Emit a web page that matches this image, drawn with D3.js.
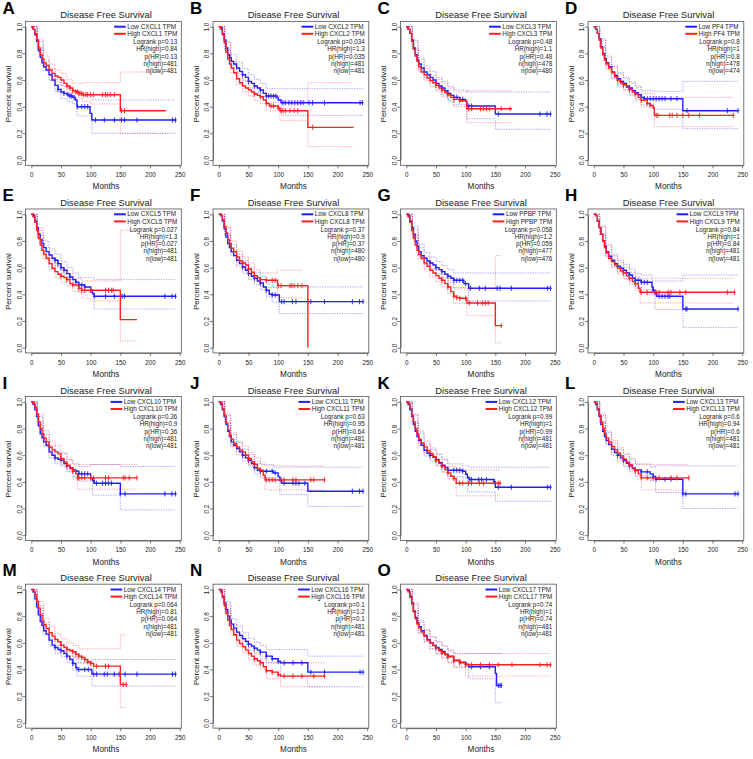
<!DOCTYPE html>
<html lang="en">
<head>
<meta charset="UTF-8">
<title>Disease Free Survival - CXC chemokines</title>
<script src="https://d3js.org/d3.v7.min.js"></script>
<style>
  body { margin: 0; background: #fff; }
  svg { display: block; font-family: "Liberation Sans", Arial, sans-serif; }
</style>
</head>
<body>
<svg id="chart" width="753" height="759"></svg>
<script>
// Panel labels and genes
const letters = ["A","B","C","D","E","F","G","H","I","J","K","L","M","N","O"];
const genes = ["CXCL1","CXCL2","CXCL3","PF4","CXCL5","CXCL8","PPBP","CXCL9","CXCL10","CXCL11","CXCL12","CXCL13","CXCL14","CXCL16","CXCL17"];

// Stats text
const logrankP = ["0.13","0.034","0.48","0.8","0.027","0.37","0.058","0.84","0.36","0.63","0.99","0.6","0.064","0.1","0.74"];
const hrHigh   = ["0.84","1.3","1.1","1","1.3","0.9","1.2","1","0.9","0.95","1","0.94","0.81","1.2","1"];
const pHR      = ["0.13","0.035","0.48","0.8","0.027","0.37","0.059","0.84","0.36","0.64","0.99","0.6","0.064","0.1","0.74"];
const nHigh    = [481,481,478,478,481,480,477,481,481,481,481,481,481,481,481];
const nLow     = [481,481,480,474,481,480,476,481,481,481,481,481,481,481,481];

// Kaplan-Meier knots [months, survival], low expression group (blue)
const lowCurves = [
  [[0,1],[3,0.98],[6,0.94],[9,0.89],[12,0.82],[15,0.77],[18,0.73],[21,0.70],[25,0.675],[30,0.64],[35,0.60],[40,0.56],[45,0.53],[50,0.51],[55,0.50],[60,0.49],[65,0.48],[70,0.47],[74,0.45],[77,0.40],[99,0.35],[102,0.30],[243,0.30]],
  [[0,1],[3,0.99],[6,0.95],[9,0.90],[12,0.84],[15,0.79],[18,0.77],[21,0.74],[25,0.72],[30,0.69],[35,0.665],[40,0.64],[45,0.62],[50,0.59],[55,0.575],[60,0.555],[65,0.54],[70,0.525],[75,0.50],[80,0.48],[98,0.47],[100,0.45],[105,0.43],[243,0.43]],
  [[0,1],[3,0.98],[6,0.95],[9,0.90],[12,0.84],[15,0.79],[18,0.75],[21,0.72],[25,0.69],[30,0.66],[35,0.64],[40,0.62],[45,0.60],[50,0.575],[55,0.555],[60,0.54],[65,0.52],[70,0.50],[75,0.485],[80,0.47],[90,0.455],[100,0.44],[102,0.405],[150,0.345],[243,0.345]],
  [[0,1],[3,0.98],[6,0.95],[9,0.91],[12,0.85],[15,0.80],[18,0.76],[21,0.73],[25,0.70],[30,0.66],[35,0.635],[40,0.61],[45,0.59],[50,0.575],[55,0.555],[60,0.54],[65,0.52],[70,0.505],[75,0.49],[80,0.47],[85,0.46],[150,0.37],[243,0.37]],
  [[0,1],[3,0.99],[6,0.95],[9,0.90],[12,0.85],[15,0.81],[18,0.78],[21,0.75],[25,0.72],[30,0.695],[35,0.67],[40,0.655],[45,0.63],[50,0.60],[55,0.58],[60,0.555],[65,0.53],[70,0.51],[75,0.49],[80,0.47],[90,0.455],[100,0.43],[103,0.405],[106,0.385],[243,0.385]],
  [[0,1],[3,0.99],[6,0.95],[9,0.89],[12,0.83],[15,0.78],[18,0.75],[21,0.72],[25,0.69],[30,0.655],[35,0.63],[40,0.605],[45,0.58],[50,0.555],[55,0.535],[60,0.52],[65,0.50],[70,0.485],[75,0.455],[80,0.43],[85,0.40],[90,0.395],[102,0.345],[243,0.345]],
  [[0,1],[3,0.99],[6,0.95],[9,0.90],[12,0.85],[15,0.80],[18,0.76],[21,0.72],[25,0.69],[30,0.67],[35,0.65],[40,0.635],[45,0.62],[50,0.60],[55,0.585],[60,0.57],[65,0.55],[70,0.535],[75,0.52],[80,0.505],[97,0.48],[105,0.445],[243,0.445]],
  [[0,1],[3,0.99],[6,0.95],[9,0.90],[12,0.85],[15,0.80],[18,0.76],[21,0.72],[25,0.685],[30,0.655],[35,0.63],[40,0.61],[45,0.595],[50,0.58],[55,0.56],[60,0.545],[65,0.52],[70,0.505],[80,0.49],[98,0.455],[100,0.43],[103,0.405],[106,0.385],[150,0.29],[243,0.29]],
  [[0,1],[3,0.98],[6,0.94],[9,0.89],[12,0.82],[15,0.76],[18,0.73],[21,0.70],[25,0.675],[30,0.625],[35,0.60],[40,0.58],[45,0.57],[50,0.5625],[55,0.5375],[60,0.52],[65,0.505],[70,0.49],[75,0.48],[80,0.46],[100,0.43],[103,0.41],[106,0.39],[150,0.31],[243,0.31]],
  [[0,1],[3,0.98],[6,0.94],[9,0.89],[12,0.83],[15,0.78],[18,0.74],[21,0.70],[25,0.675],[30,0.65],[35,0.625],[40,0.60],[45,0.58],[50,0.5625],[55,0.5375],[60,0.5075],[65,0.4875],[70,0.48],[92,0.4675],[100,0.4375],[103,0.41],[106,0.39],[150,0.33],[243,0.33]],
  [[0,1],[3,0.98],[6,0.94],[9,0.89],[12,0.83],[15,0.78],[18,0.74],[21,0.71],[25,0.675],[30,0.6375],[35,0.615],[40,0.60],[45,0.585],[50,0.5675],[55,0.545],[60,0.525],[65,0.5075],[70,0.4875],[95,0.48],[100,0.4575],[103,0.4325],[106,0.4175],[148,0.40],[150,0.36],[243,0.36]],
  [[0,1],[3,0.98],[6,0.94],[9,0.89],[12,0.83],[15,0.78],[18,0.74],[21,0.71],[25,0.68],[30,0.645],[35,0.62],[40,0.60],[45,0.58],[50,0.56],[55,0.54],[60,0.52],[65,0.50],[70,0.49],[80,0.475],[95,0.46],[100,0.44],[104,0.42],[150,0.31],[243,0.31]],
  [[0,1],[3,0.98],[6,0.93],[9,0.87],[12,0.81],[15,0.76],[18,0.73],[21,0.69],[25,0.665],[30,0.62],[35,0.5825],[40,0.565],[45,0.55],[50,0.54],[55,0.52],[60,0.50],[65,0.475],[70,0.445],[75,0.415],[77,0.40],[102,0.365],[243,0.365]],
  [[0,1],[3,0.99],[6,0.95],[9,0.90],[12,0.85],[15,0.80],[18,0.77],[21,0.74],[25,0.71],[30,0.68],[35,0.655],[40,0.63],[45,0.61],[50,0.59],[55,0.575],[60,0.56],[65,0.545],[70,0.53],[80,0.50],[90,0.48],[100,0.46],[104,0.45],[150,0.38],[243,0.38]],
  [[0,1],[3,0.99],[6,0.95],[9,0.90],[12,0.84],[15,0.79],[18,0.75],[21,0.72],[25,0.69],[30,0.655],[35,0.625],[40,0.60],[45,0.58],[50,0.565],[55,0.55],[60,0.535],[65,0.515],[70,0.50],[80,0.47],[90,0.455],[100,0.44],[105,0.42],[150,0.37],[152,0.28],[160,0.28]]
];

// Kaplan-Meier knots, high expression group (red)
const highCurves = [
  [[0,1],[3,0.98],[6,0.95],[9,0.90],[12,0.84],[15,0.79],[18,0.76],[21,0.73],[25,0.71],[30,0.675],[35,0.65],[40,0.63],[45,0.62],[50,0.60],[55,0.575],[60,0.555],[65,0.54],[70,0.52],[75,0.51],[80,0.50],[86,0.49],[150,0.37],[227,0.37]],
  [[0,1],[3,0.98],[6,0.94],[9,0.88],[12,0.81],[15,0.76],[18,0.72],[21,0.69],[25,0.655],[30,0.61],[35,0.58],[40,0.555],[45,0.54],[50,0.525],[55,0.51],[60,0.495],[65,0.485],[70,0.475],[75,0.45],[80,0.425],[85,0.405],[100,0.39],[103,0.37],[150,0.245],[227,0.245]],
  [[0,1],[3,0.98],[6,0.95],[9,0.89],[12,0.83],[15,0.78],[18,0.74],[21,0.70],[25,0.66],[30,0.64],[35,0.615],[40,0.595],[45,0.58],[50,0.56],[55,0.54],[60,0.525],[65,0.505],[70,0.49],[75,0.47],[80,0.455],[90,0.445],[100,0.44],[102,0.385],[178,0.385]],
  [[0,1],[3,0.98],[6,0.95],[9,0.90],[12,0.84],[15,0.79],[18,0.75],[21,0.72],[25,0.69],[30,0.655],[35,0.625],[40,0.60],[45,0.58],[50,0.565],[55,0.545],[60,0.53],[65,0.51],[70,0.495],[75,0.47],[80,0.45],[90,0.425],[95,0.41],[100,0.39],[102,0.335],[235,0.335]],
  [[0,1],[3,0.98],[6,0.94],[9,0.88],[12,0.82],[15,0.77],[18,0.73],[21,0.70],[25,0.67],[30,0.63],[35,0.595],[40,0.57],[45,0.55],[50,0.535],[55,0.525],[60,0.51],[65,0.48],[70,0.47],[80,0.445],[85,0.43],[150,0.21],[178,0.21]],
  [[0,1],[3,0.99],[6,0.96],[9,0.91],[12,0.86],[15,0.81],[18,0.78],[21,0.745],[25,0.72],[30,0.68],[35,0.65],[40,0.635],[45,0.62],[50,0.59],[55,0.565],[60,0.54],[65,0.525],[70,0.51],[80,0.505],[99,0.465],[150,0]],
  [[0,1],[3,0.98],[6,0.94],[9,0.88],[12,0.82],[15,0.77],[18,0.73],[21,0.70],[25,0.67],[30,0.635],[35,0.61],[40,0.58],[45,0.56],[50,0.54],[55,0.52],[60,0.505],[65,0.48],[70,0.455],[75,0.42],[80,0.385],[85,0.375],[90,0.37],[102,0.335],[150,0.165],[160,0.165]],
  [[0,1],[3,0.99],[6,0.95],[9,0.90],[12,0.85],[15,0.80],[18,0.75],[21,0.71],[25,0.67],[30,0.645],[35,0.62],[40,0.595],[45,0.575],[50,0.56],[55,0.54],[60,0.52],[65,0.495],[70,0.48],[75,0.445],[78,0.415],[237,0.415]],
  [[0,1],[3,0.99],[6,0.96],[9,0.91],[12,0.85],[15,0.80],[18,0.76],[21,0.73],[25,0.70],[30,0.66],[35,0.64],[40,0.625],[45,0.61],[50,0.575],[55,0.55],[60,0.525],[65,0.50],[70,0.48],[75,0.46],[78,0.43],[178,0.43]],
  [[0,1],[3,0.99],[6,0.95],[9,0.90],[12,0.84],[15,0.79],[18,0.75],[21,0.72],[25,0.6875],[30,0.6625],[35,0.64],[40,0.625],[45,0.60],[50,0.575],[55,0.55],[60,0.5325],[65,0.50],[70,0.4875],[75,0.45],[78,0.415],[177,0.415]],
  [[0,1],[3,0.99],[6,0.95],[9,0.90],[12,0.85],[15,0.80],[18,0.76],[21,0.72],[25,0.69],[30,0.6625],[35,0.635],[40,0.6125],[45,0.59],[50,0.5625],[55,0.54],[60,0.5175],[65,0.4925],[70,0.4675],[75,0.4425],[80,0.425],[84,0.39],[158,0.39]],
  [[0,1],[3,0.99],[6,0.95],[9,0.90],[12,0.85],[15,0.80],[18,0.76],[21,0.73],[25,0.70],[30,0.665],[35,0.64],[40,0.615],[45,0.595],[50,0.57],[55,0.55],[60,0.53],[65,0.505],[70,0.485],[75,0.46],[80,0.43],[160,0.43]],
  [[0,1],[3,0.99],[6,0.96],[9,0.91],[12,0.86],[15,0.81],[18,0.77],[21,0.735],[25,0.7075],[30,0.675],[35,0.65],[40,0.625],[45,0.6075],[50,0.5825],[55,0.565],[60,0.55],[65,0.54],[70,0.5325],[75,0.515],[80,0.50],[85,0.49],[90,0.475],[95,0.4575],[100,0.445],[105,0.425],[150,0.2875],[160,0.2875]],
  [[0,1],[3,0.98],[6,0.94],[9,0.88],[12,0.82],[15,0.77],[18,0.73],[21,0.70],[25,0.66],[30,0.62],[35,0.595],[40,0.57],[45,0.545],[50,0.52],[55,0.50],[60,0.48],[65,0.465],[70,0.45],[75,0.42],[80,0.39],[90,0.38],[100,0.36],[104,0.35],[178,0.35]],
  [[0,1],[3,0.98],[6,0.94],[9,0.89],[12,0.83],[15,0.78],[18,0.74],[21,0.71],[25,0.68],[30,0.65],[35,0.62],[40,0.60],[45,0.58],[50,0.56],[55,0.54],[60,0.525],[65,0.51],[70,0.495],[80,0.465],[90,0.45],[100,0.435],[243,0.435]]
];

// 95% confidence bands (dotted)
const lowUpper = [
  [[0,1],[10,0.89],[20,0.75],[30,0.685],[40,0.605],[50,0.56],[60,0.54],[70,0.52],[77,0.49],[102,0.45],[243,0.45]],
  [[0,1],[10,0.89],[20,0.79],[30,0.735],[40,0.685],[50,0.64],[60,0.605],[70,0.575],[80,0.535],[243,0.535]],
  [[0,1],[10,0.90],[20,0.77],[30,0.705],[40,0.665],[50,0.62],[60,0.59],[70,0.55],[80,0.525],[102,0.51],[243,0.51]],
  [[0,1],[10,0.91],[20,0.78],[30,0.705],[40,0.655],[50,0.62],[60,0.585],[70,0.555],[80,0.52],[100,0.515],[150,0.59],[243,0.59]],
  [[0,1],[10,0.90],[20,0.80],[30,0.74],[40,0.70],[50,0.645],[60,0.60],[70,0.56],[80,0.525],[106,0.51],[243,0.51]],
  [[0,1],[10,0.90],[20,0.775],[30,0.70],[40,0.65],[50,0.60],[60,0.565],[70,0.535],[80,0.48],[90,0.45],[102,0.455],[243,0.455]],
  [[0,1],[10,0.91],[20,0.775],[30,0.715],[40,0.68],[50,0.645],[60,0.615],[70,0.585],[80,0.56],[243,0.56]],
  [[0,1],[10,0.91],[20,0.775],[30,0.70],[40,0.655],[50,0.625],[60,0.59],[70,0.555],[80,0.545],[98,0.50],[150,0.545],[243,0.545]],
  [[0,1],[10,0.89],[20,0.755],[30,0.67],[40,0.625],[50,0.61],[60,0.565],[70,0.54],[80,0.515],[100,0.53],[150,0.515],[243,0.515]],
  [[0,1],[10,0.90],[20,0.755],[30,0.695],[40,0.645],[50,0.605],[60,0.555],[70,0.53],[92,0.51],[243,0.51]],
  [[0,1],[10,0.90],[20,0.765],[30,0.68],[40,0.645],[50,0.61],[60,0.57],[70,0.535],[95,0.52],[106,0.51],[243,0.51]],
  [[0,1],[10,0.90],[20,0.77],[30,0.69],[40,0.645],[50,0.605],[60,0.565],[70,0.535],[95,0.51],[104,0.52],[243,0.52]],
  [[0,1],[10,0.88],[20,0.75],[30,0.665],[40,0.61],[50,0.585],[60,0.55],[70,0.495],[77,0.45],[102,0.475],[243,0.475]],
  [[0,1],[10,0.91],[20,0.78],[30,0.725],[40,0.675],[50,0.635],[60,0.605],[70,0.58],[80,0.55],[150,0.50],[243,0.50]],
  [[0,1],[10,0.90],[20,0.765],[30,0.70],[40,0.645],[50,0.61],[60,0.58],[70,0.545],[80,0.52],[160,0.52]]
];
const lowLower = [
  [[0,1],[10,0.83],[20,0.67],[30,0.595],[40,0.515],[50,0.46],[60,0.44],[70,0.42],[77,0.33],[102,0.20],[243,0.20]],
  [[0,1],[10,0.83],[20,0.71],[30,0.645],[40,0.595],[50,0.54],[60,0.505],[70,0.475],[80,0.43],[105,0.335],[243,0.335]],
  [[0,1],[10,0.84],[20,0.68],[30,0.615],[40,0.575],[50,0.53],[60,0.49],[70,0.45],[80,0.415],[102,0.31],[150,0.23],[243,0.23]],
  [[0,1],[10,0.85],[20,0.70],[30,0.615],[40,0.565],[50,0.53],[60,0.495],[70,0.455],[80,0.415],[100,0.38],[150,0.235],[243,0.235]],
  [[0,1],[10,0.84],[20,0.72],[30,0.65],[40,0.61],[50,0.555],[60,0.51],[70,0.46],[80,0.415],[106,0.29],[243,0.29]],
  [[0,1],[10,0.84],[20,0.695],[30,0.61],[40,0.56],[50,0.51],[60,0.475],[70,0.435],[80,0.38],[90,0.34],[102,0.255],[243,0.255]],
  [[0,1],[10,0.85],[20,0.685],[30,0.625],[40,0.59],[50,0.555],[60,0.525],[70,0.485],[80,0.45],[105,0.35],[243,0.35]],
  [[0,1],[10,0.85],[20,0.685],[30,0.61],[40,0.565],[50,0.535],[60,0.50],[70,0.455],[80,0.435],[98,0.40],[103,0.285],[150,0.15],[243,0.15]],
  [[0,1],[10,0.83],[20,0.665],[30,0.58],[40,0.535],[50,0.515],[60,0.475],[70,0.44],[80,0.405],[103,0.30],[150,0.19],[243,0.19]],
  [[0,1],[10,0.84],[20,0.665],[30,0.605],[40,0.555],[50,0.52],[60,0.46],[70,0.43],[92,0.41],[103,0.305],[150,0.215],[243,0.215]],
  [[0,1],[10,0.84],[20,0.675],[30,0.595],[40,0.555],[50,0.525],[60,0.48],[70,0.44],[95,0.43],[103,0.325],[150,0.255],[243,0.255]],
  [[0,1],[10,0.84],[20,0.68],[30,0.60],[40,0.555],[50,0.515],[60,0.475],[70,0.445],[95,0.41],[104,0.32],[150,0.20],[243,0.20]],
  [[0,1],[10,0.82],[20,0.66],[30,0.575],[40,0.52],[50,0.495],[60,0.455],[70,0.395],[77,0.35],[102,0.275],[243,0.275]],
  [[0,1],[10,0.85],[20,0.70],[30,0.635],[40,0.585],[50,0.545],[60,0.515],[70,0.48],[80,0.45],[104,0.35],[150,0.27],[243,0.27]],
  [[0,1],[10,0.84],[20,0.675],[30,0.61],[40,0.555],[50,0.52],[60,0.49],[70,0.455],[80,0.42],[105,0.33],[150,0.15],[160,0.15]]
];
const highUpper = [
  [[0,1],[10,0.91],[20,0.78],[30,0.72],[40,0.675],[50,0.65],[60,0.605],[70,0.575],[86,0.58],[150,0.66],[227,0.66]],
  [[0,1],[10,0.88],[20,0.745],[30,0.655],[40,0.60],[50,0.57],[60,0.545],[70,0.525],[80,0.48],[103,0.44],[150,0.58],[227,0.58]],
  [[0,1],[10,0.89],[20,0.755],[30,0.685],[40,0.64],[50,0.605],[60,0.575],[70,0.54],[80,0.51],[102,0.52],[178,0.52]],
  [[0,1],[10,0.90],[20,0.765],[30,0.70],[40,0.645],[50,0.61],[60,0.575],[70,0.545],[80,0.50],[102,0.47],[235,0.47]],
  [[0,1],[10,0.88],[20,0.75],[30,0.675],[40,0.615],[50,0.58],[60,0.555],[70,0.52],[85,0.50],[150,0.88],[178,0.88]],
  [[0,1],[10,0.91],[20,0.80],[30,0.725],[40,0.68],[50,0.635],[60,0.585],[70,0.56],[99,0.58],[140,0.58]],
  [[0,1],[10,0.89],[20,0.75],[30,0.68],[40,0.625],[50,0.585],[60,0.55],[70,0.505],[80,0.44],[150,0.69],[160,0.69]],
  [[0,1],[10,0.91],[20,0.765],[30,0.69],[40,0.64],[50,0.605],[60,0.565],[70,0.53],[78,0.52],[237,0.52]],
  [[0,1],[10,0.91],[20,0.785],[30,0.705],[40,0.67],[50,0.62],[60,0.57],[70,0.53],[178,0.53]],
  [[0,1],[10,0.91],[20,0.77],[30,0.705],[40,0.67],[50,0.62],[60,0.58],[70,0.535],[78,0.52],[177,0.52]],
  [[0,1],[10,0.91],[20,0.78],[30,0.705],[40,0.655],[50,0.605],[60,0.565],[70,0.515],[84,0.49],[158,0.49]],
  [[0,1],[10,0.91],[20,0.78],[30,0.71],[40,0.66],[50,0.615],[60,0.575],[70,0.53],[160,0.53]],
  [[0,1],[10,0.91],[20,0.785],[30,0.72],[40,0.67],[50,0.63],[60,0.60],[70,0.58],[80,0.555],[150,0.66],[160,0.66]],
  [[0,1],[10,0.89],[20,0.745],[30,0.665],[40,0.615],[50,0.565],[60,0.525],[70,0.50],[80,0.45],[178,0.45]],
  [[0,1],[10,0.89],[20,0.755],[30,0.695],[40,0.645],[50,0.605],[60,0.57],[70,0.54],[80,0.515],[100,0.52],[243,0.52]]
];
const highLower = [
  [[0,1],[10,0.85],[20,0.70],[30,0.63],[40,0.585],[50,0.555],[60,0.505],[70,0.47],[86,0.44],[100,0.42],[150,0.20],[227,0.20]],
  [[0,1],[10,0.82],[20,0.655],[30,0.565],[40,0.51],[50,0.48],[60,0.445],[70,0.425],[80,0.37],[103,0.295],[150,0.10],[227,0.10]],
  [[0,1],[10,0.83],[20,0.665],[30,0.595],[40,0.55],[50,0.515],[60,0.475],[70,0.44],[80,0.40],[102,0.28],[178,0.28]],
  [[0,1],[10,0.84],[20,0.68],[30,0.61],[40,0.555],[50,0.52],[60,0.485],[70,0.445],[80,0.40],[102,0.25],[235,0.25]],
  [[0,1],[10,0.82],[20,0.665],[30,0.585],[40,0.525],[50,0.49],[60,0.465],[70,0.42],[85,0.37],[100,0.35],[150,0.05],[178,0.05]],
  [[0,1],[10,0.85],[20,0.71],[30,0.635],[40,0.59],[50,0.545],[60,0.495],[70,0.46],[80,0.45],[99,0.375],[140,0.375]],
  [[0,1],[10,0.83],[20,0.66],[30,0.59],[40,0.535],[50,0.495],[60,0.46],[70,0.405],[80,0.33],[102,0.24],[150,0.035],[160,0.035]],
  [[0,1],[10,0.85],[20,0.675],[30,0.60],[40,0.55],[50,0.515],[60,0.475],[70,0.43],[78,0.335],[237,0.335]],
  [[0,1],[10,0.85],[20,0.695],[30,0.615],[40,0.58],[50,0.53],[60,0.48],[70,0.43],[78,0.345],[178,0.345]],
  [[0,1],[10,0.85],[20,0.68],[30,0.62],[40,0.58],[50,0.53],[60,0.485],[70,0.44],[78,0.34],[177,0.34]],
  [[0,1],[10,0.85],[20,0.695],[30,0.62],[40,0.57],[50,0.52],[60,0.47],[70,0.42],[84,0.295],[158,0.295]],
  [[0,1],[10,0.85],[20,0.695],[30,0.62],[40,0.57],[50,0.525],[60,0.485],[70,0.44],[80,0.34],[160,0.34]],
  [[0,1],[10,0.86],[20,0.705],[30,0.63],[40,0.58],[50,0.535],[60,0.50],[70,0.485],[80,0.45],[105,0.35],[150,0.115],[160,0.115]],
  [[0,1],[10,0.83],[20,0.655],[30,0.575],[40,0.525],[50,0.475],[60,0.435],[70,0.40],[80,0.33],[104,0.27],[178,0.27]],
  [[0,1],[10,0.83],[20,0.665],[30,0.605],[40,0.555],[50,0.515],[60,0.48],[70,0.45],[80,0.415],[100,0.35],[243,0.35]]
];

// Censoring times (months)
const lowCensor = [
  [45,55,62,65,68,72,78,85,90,95,108,123,140,152,157,178,238,243],
  [40,50,60,70,80,84,88,92,96,108,112,118,123,128,133,138,142,152,158,178,238,242],
  [50,60,70,80,85,90,95,105,110,155,225,237,243],
  [40,45,50,60,70,80,85,90,95,100,105,110,115,120,130,140,157,225,243],
  [40,45,50,55,65,75,80,85,90,100,106,125,140,153,157,225,237,243],
  [40,50,60,70,80,90,95,106,110,124,130,150,155,178,225,237,243],
  [40,50,60,70,80,85,90,95,100,108,123,133,153,158,177,238,243],
  [40,50,60,70,75,80,85,90,100,105,110,115,120,125,128,155,157,243],
  [40,50,60,70,80,85,90,95,105,110,120,125,130,135,150,158,225,237,243],
  [40,50,60,70,80,90,95,105,110,125,130,135,145,225,237,243],
  [40,50,60,70,80,85,90,95,107,110,122,127,135,148,155,177,238,243],
  [40,50,60,70,80,90,100,105,120,130,150,155,238,243],
  [40,50,60,70,80,90,96,105,110,123,128,140,148,158,178,238,243],
  [50,60,70,80,90,100,110,125,140,155,178,238,243],
  [50,60,70,80,90,100,110,125,140,155,158,160]
];
const highCensor = [
  [60,65,70,75,78,80,82,85,88,92,95,100,105,120,125,128,133,140,152,157],
  [60,70,80,88,92,100,105,108,112,120,127,133,158],
  [50,60,70,80,90,105,110,125,130,135,140,150,160,175],
  [40,50,60,70,80,90,95,105,108,128,132,140,150,160,178,235],
  [50,60,70,80,85,90,100,125,130,135,138],
  [40,50,60,70,80,90,95,100,105,120,123,127,133,140],
  [60,70,80,85,90,100,106,120,128,133,138,160],
  [50,60,70,80,90,105,110,125,130,145,155,225,237],
  [50,60,70,78,80,85,90,100,105,125,130,155,158,165,178],
  [50,60,70,80,85,90,95,105,110,125,130,155,160,178],
  [50,60,70,80,90,95,105,110,123,130,155,158],
  [50,60,70,80,90,100,110,130,140,160],
  [50,60,70,75,80,85,90,95,100,110,125,130,155,160],
  [60,70,80,90,100,110,125,140,160,178],
  [60,70,80,90,100,110,125,140,155,178,225,237,243]
];

const xTicks = [0, 50, 100, 150, 200, 250];
const yTicks = [0, 0.2, 0.4, 0.6, 0.8, 1.0];

// Layout
const colStep = 187.5, rowStep = 187.6;
const lowColor = "#1f1fff", highColor = "#ff1f1f";
const textColor = "#222";

const svg = d3.select("#chart");
svg.append("rect").attr("width", 753).attr("height", 759).attr("fill", "#fff");

const x = d3.scaleLinear().domain([0, 250]).range([31.3, 179.7]);
const y = d3.scaleLinear().domain([0, 1]).range([160, 26.7]);
const boxL = x(-9.7), boxR = x(252.7), boxT = y(1.04), boxB = y(-0.04);

const stepLine = d3.line().x(d => x(d[0])).y(d => y(d[1])).curve(d3.curveStepAfter);

function survAt(curve, t) {
    let s = curve[0][1];
    for (const p of curve) { if (p[0] <= t) s = p[1]; }
    return s;
}

function drawGroup(g, curve, upper, lower, censor, color) {
    [upper, lower].forEach(ci => {
        g.append("path")
            .attr("d", stepLine(ci))
            .attr("fill", "none")
            .attr("stroke", color)
            .attr("stroke-opacity", 0.55)
            .attr("stroke-width", 0.8)
            .attr("stroke-dasharray", "1.2,1.3");
    });
    g.append("path")
        .attr("d", stepLine(curve))
        .attr("fill", "none")
        .attr("stroke", color)
        .attr("stroke-width", 1.4);
    g.append("g").selectAll("path")
        .data(censor)
        .enter()
        .append("path")
        .attr("d", t => {
            const cx = x(t), cy = y(survAt(curve, t));
            return `M${cx},${cy - 2.6}V${cy + 2.6}M${cx - 1.3},${cy}H${cx + 1.3}`;
        })
        .attr("stroke", color)
        .attr("stroke-width", 0.9);
}

genes.forEach((gene, i) => {
    const col = i % 4, row = Math.floor(i / 4);
    const g = svg.append("g").attr("transform", `translate(${col * colStep},${row * rowStep})`);

    // panel letter
    g.append("text")
        .attr("x", 2.5).attr("y", 13.6)
        .attr("font-size", 17).attr("font-weight", "bold")
        .attr("fill", "#000")
        .text(letters[i]);

    // title
    g.append("text")
        .attr("x", 106).attr("y", 18.4)
        .attr("text-anchor", "middle")
        .attr("font-size", 9.4).attr("fill", textColor)
        .text("Disease Free Survival");

    // confidence bands and curves
    drawGroup(g, lowCurves[i], lowUpper[i], lowLower[i], lowCensor[i], lowColor);
    drawGroup(g, highCurves[i], highUpper[i], highLower[i], highCensor[i], highColor);

    // plot box
    g.append("rect")
        .attr("x", boxL).attr("y", boxT)
        .attr("width", boxR - boxL).attr("height", boxB - boxT)
        .attr("fill", "none").attr("stroke", "#555").attr("stroke-width", 0.8);

    // x axis
    const xa = g.append("g")
        .attr("transform", `translate(0,${boxB})`)
        .call(d3.axisBottom(x).tickValues(xTicks).tickSize(3).tickPadding(4.3).tickSizeOuter(0));
    xa.select(".domain").attr("stroke", "#555").attr("stroke-width", 0.8);
    xa.selectAll(".tick line").attr("stroke", "#555").attr("stroke-width", 0.8);
    xa.selectAll("text").attr("font-size", 6.3).attr("fill", textColor).attr("font-family", null);

    // y axis, labels rotated like base R
    const ya = g.append("g")
        .attr("transform", `translate(${boxL},0)`)
        .call(d3.axisLeft(y).tickValues(yTicks).tickFormat(d3.format(".1f")).tickSize(3).tickSizeOuter(0));
    ya.select(".domain").attr("stroke", "#555").attr("stroke-width", 0.8);
    ya.selectAll(".tick line").attr("stroke", "#555").attr("stroke-width", 0.8);
    ya.selectAll("text")
        .attr("font-size", 6.3).attr("fill", textColor).attr("font-family", null)
        .attr("transform", "rotate(-90)")
        .attr("text-anchor", "middle")
        .attr("x", 0).attr("y", -4).attr("dy", 0);

    // axis titles
    g.append("text")
        .attr("x", 106).attr("y", 189.4)
        .attr("text-anchor", "middle")
        .attr("font-size", 8.2).attr("fill", textColor)
        .text("Months");
    g.append("text")
        .attr("transform", "translate(11,94) rotate(-90)")
        .attr("text-anchor", "middle")
        .attr("font-size", 8).attr("fill", textColor)
        .text("Percent survival");

    // legend (top right)
    const legRight = 177.3;
    const leg = g.append("g");
    const labels = [`Low ${gene} TPM`, `High ${gene} TPM`];
    const labelTexts = labels.map((lab, k) => leg.append("text")
        .attr("y", 28.9 + k * 7.1)
        .attr("font-size", 6.3).attr("fill", textColor)
        .text(lab));
    const maxW = d3.max(labelTexts, t => t.node().getComputedTextLength());
    const legLeft = legRight - maxW;
    labelTexts.forEach((t, k) => {
        t.attr("x", legLeft);
        leg.append("line")
            .attr("x1", legLeft - 13.3).attr("x2", legLeft - 1.6)
            .attr("y1", 26.7 + k * 7.1).attr("y2", 26.7 + k * 7.1)
            .attr("stroke", k === 0 ? lowColor : highColor)
            .attr("stroke-width", 2);
    });

    const stats = [
        `Logrank p=${logrankP[i]}`,
        `HR(high)=${hrHigh[i]}`,
        `p(HR)=${pHR[i]}`,
        `n(high)=${nHigh[i]}`,
        `n(low)=${nLow[i]}`
    ];
    leg.selectAll("text.stat")
        .data(stats)
        .enter()
        .append("text")
        .attr("class", "stat")
        .attr("x", legRight)
        .attr("y", (d, k) => 44 + k * 7.3)
        .attr("text-anchor", "end")
        .attr("font-size", 6.3).attr("fill", textColor)
        .text(d => d);
});
</script>
</body>
</html>
